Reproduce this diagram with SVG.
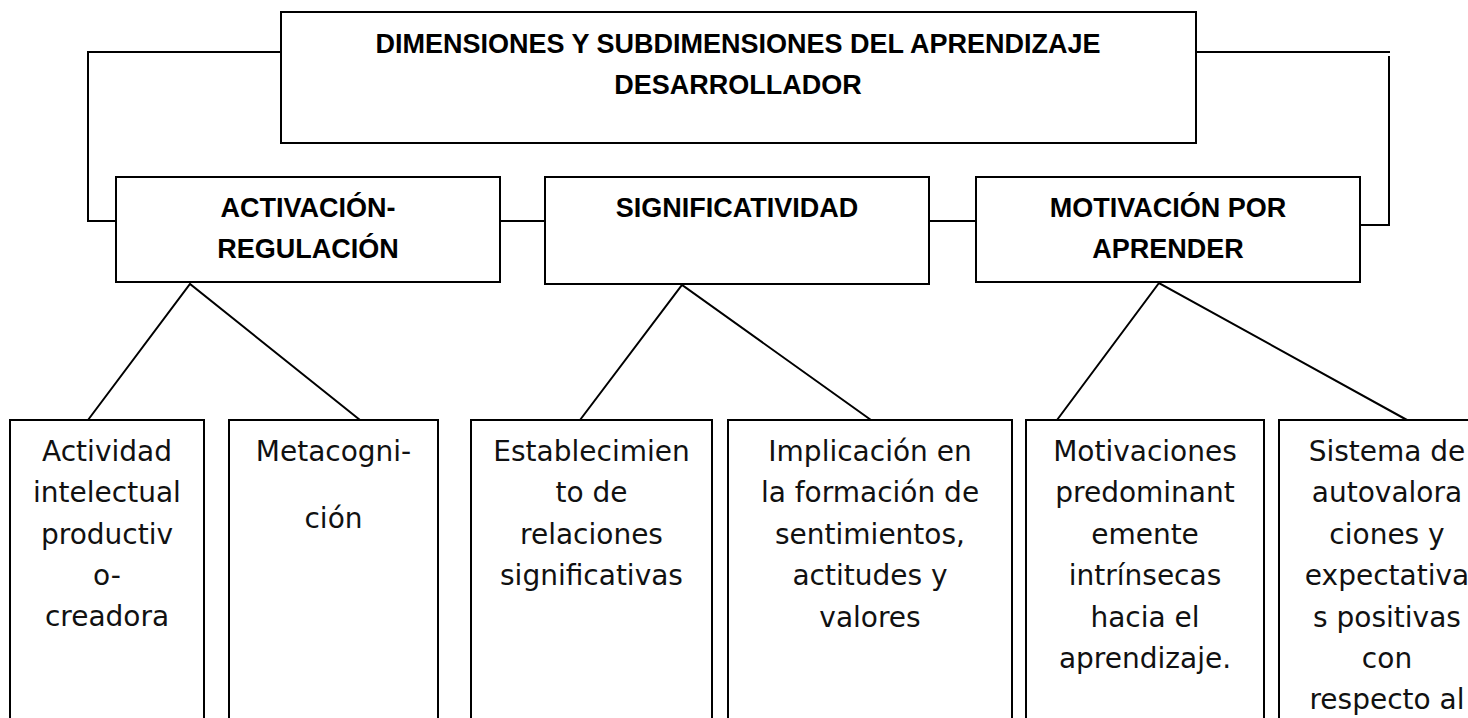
<svg xmlns="http://www.w3.org/2000/svg" width="1468" height="718" viewBox="0 0 1468 718">
<style>
.box{fill:#fff;stroke:#000;stroke-width:2}
.ln{fill:none;stroke:#000;stroke-width:2}
.h{font-family:"Liberation Sans",Arial,sans-serif;font-weight:bold;font-size:27px;fill:#000;text-anchor:middle}
.t{font-family:"DejaVu Sans",sans-serif;font-size:28px;fill:#111;text-anchor:middle}
</style>
<rect width="1468" height="718" fill="#fff"/>
<g id="connectors">
<polyline class="ln" points="281,52 88,52 88,221 116,221"/>
<polyline class="ln" points="1196,52 1390,52"/>
<polyline class="ln" points="1389,56 1389,225 1360,225"/>
<line class="ln" x1="500" y1="221" x2="545" y2="221"/>
<line class="ln" x1="929" y1="221" x2="976" y2="221"/>
<polyline class="ln" points="88,420 190,284 360,420"/>
<polyline class="ln" points="580,420 682,285 871,420"/>
<polyline class="ln" points="1057,420 1159,283 1407,420"/>
</g>
<g id="root">
<rect class="box" x="281" y="12" width="915" height="131"/>
<text class="h" x="738" y="53">DIMENSIONES Y SUBDIMENSIONES DEL APRENDIZAJE</text>
<text class="h" x="738" y="94">DESARROLLADOR</text>
</g>
<g id="activacion">
<rect class="box" x="116" y="177" width="384" height="105"/>
<text class="h" x="308" y="217">ACTIVACIÓN-</text>
<text class="h" x="308" y="258">REGULACIÓN</text>
</g>
<g id="significatividad">
<rect class="box" x="545" y="177" width="384" height="107"/>
<text class="h" x="737" y="217">SIGNIFICATIVIDAD</text>
</g>
<g id="motivacion">
<rect class="box" x="976" y="177" width="384" height="105"/>
<text class="h" x="1168" y="217">MOTIVACIÓN POR</text>
<text class="h" x="1168" y="258">APRENDER</text>
</g>
<g id="actividad">
<rect class="box" x="10" y="420" width="194" height="310"/>
<text class="t" x="107" y="461">Actividad</text>
<text class="t" x="107" y="502">intelectual</text>
<text class="t" x="107" y="544">productiv</text>
<text class="t" x="107" y="585">o-</text>
<text class="t" x="107" y="626">creadora</text>
</g>
<g id="metacognicion">
<rect class="box" x="229" y="420" width="209" height="310"/>
<text class="t" x="333.5" y="461">Metacogni-</text>
<text class="t" x="333.5" y="528">ción</text>
</g>
<g id="establecimiento">
<rect class="box" x="471" y="420" width="241" height="310"/>
<text class="t" x="591.5" y="461">Establecimien</text>
<text class="t" x="591.5" y="502">to de</text>
<text class="t" x="591.5" y="544">relaciones</text>
<text class="t" x="591.5" y="585">significativas</text>
</g>
<g id="implicacion">
<rect class="box" x="728" y="420" width="284" height="310"/>
<text class="t" x="870" y="461">Implicación en</text>
<text class="t" x="870" y="502">la formación de</text>
<text class="t" x="870" y="544">sentimientos,</text>
<text class="t" x="870" y="585">actitudes y</text>
<text class="t" x="870" y="627">valores</text>
</g>
<g id="motivaciones">
<rect class="box" x="1026" y="420" width="238" height="310"/>
<text class="t" x="1145" y="461">Motivaciones</text>
<text class="t" x="1145" y="502">predominant</text>
<text class="t" x="1145" y="544">emente</text>
<text class="t" x="1145" y="585">intrínsecas</text>
<text class="t" x="1145" y="627">hacia el</text>
<text class="t" x="1145" y="668">aprendizaje.</text>
</g>
<g id="sistema">
<rect class="box" x="1279" y="420" width="216" height="310"/>
<text class="t" x="1387" y="461">Sistema de</text>
<text class="t" x="1387" y="502">autovalora</text>
<text class="t" x="1387" y="544">ciones y</text>
<text class="t" x="1387" y="585">expectativa</text>
<text class="t" x="1387" y="627">s positivas</text>
<text class="t" x="1387" y="668">con</text>
<text class="t" x="1387" y="709">respecto al</text>
</g>
</svg>
